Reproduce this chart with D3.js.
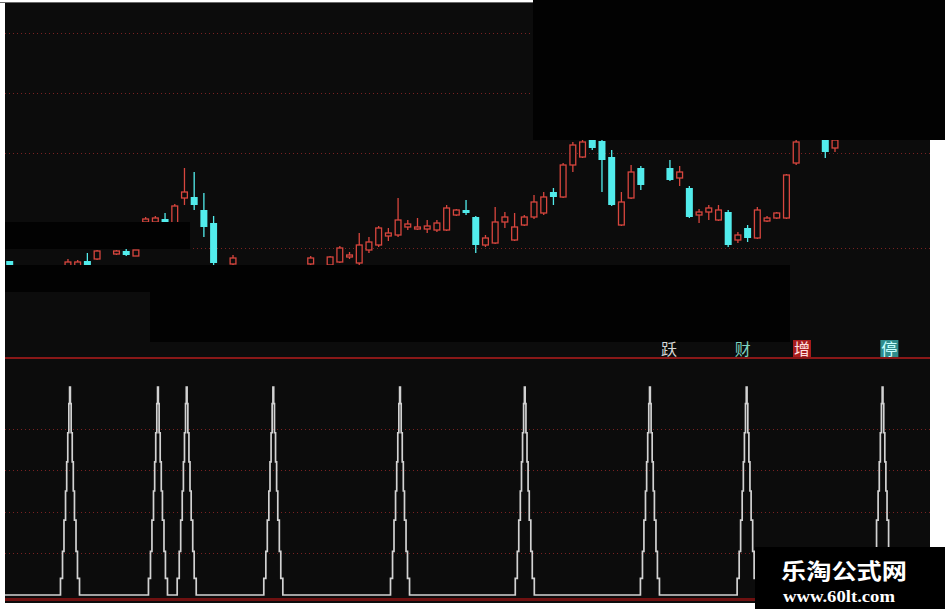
<!DOCTYPE html>
<html><head><meta charset="utf-8">
<script src="https://cdn.jsdelivr.net/npm/d3@7"></script>
<style>html,body{margin:0;padding:0;background:#fff;}svg{display:block;}</style>
</head><body>
<svg id="c" width="945" height="609"></svg>
<script>
// ---- candle data (bar index, OHLC) ----
const barIndex = [0,6,7,8,9,11,12,13,14,15,16,17,18,19,20,21,23,31,33,34,35,36,37,38,39,40,41,42,43,44,45,46,47,48,49,50,51,52,53,54,55,56,57,58,59,60,61,62,63,64,65,68,69,70,71,72,73,74,75,76,77,78,79,80,81,84,85];
const open  = [13.9,13.3,13.4,13.9,14.1,14.6,14.9,14.4,17.8,17.8,18.1,17.7,20.2,20.3,19.0,17.7,13.6,13.6,13.5,13.8,14.3,13.7,15.0,15.5,16.4,16.5,17.3,17.1,17.1,17.0,17.0,18.5,19.0,18.3,15.5,15.7,17.8,16.0,17.5,18.3,18.7,20.8,20.3,23.5,24.3,26.0,25.9,24.3,17.5,20.2,23.2,23.2,22.2,21.2,18.5,18.8,18.0,18.8,16.0,17.2,16.2,17.9,18.2,18.2,23.7,26.0,25.2];
const close = [13.4,13.8,13.8,13.5,14.9,14.9,14.5,15.0,18.1,18.2,17.8,19.4,20.8,19.5,17.3,13.7,14.2,14.2,14.3,15.2,14.5,15.5,15.8,17.2,16.7,18.0,17.6,17.3,17.4,17.7,19.2,19.0,18.7,15.5,16.2,17.8,18.3,17.3,18.3,19.8,20.3,20.3,23.5,25.5,25.8,25.2,24.0,19.5,19.8,22.8,21.5,22.0,22.8,18.3,18.8,19.2,19.0,15.5,16.5,16.2,19.0,18.2,18.7,22.5,25.8,24.8,26.0];
const high  = [13.9,14.1,14.0,14.7,15.0,15.0,15.1,15.0,18.3,18.4,18.7,19.6,23.2,22.8,20.7,18.4,14.5,14.4,14.4,15.4,14.8,16.7,16.3,17.4,17.2,20.2,18.0,18.2,18.0,18.0,19.5,19.1,20.0,18.4,16.5,19.3,18.8,18.7,18.5,20.5,20.8,21.2,23.7,25.8,26.0,26.2,26.2,25.0,20.8,23.5,23.4,24.0,23.4,21.4,19.1,19.5,19.5,19.0,16.8,17.5,19.3,18.4,18.8,22.6,26.0,26.2,26.2];
const low   = [13.3,13.3,13.4,13.2,14.0,14.5,14.4,14.4,17.7,17.8,17.7,17.6,19.5,19.0,16.3,13.5,13.4,13.4,13.5,13.7,14.1,13.4,14.7,15.3,15.9,16.3,17.0,17.0,16.7,16.8,16.9,18.4,18.5,14.7,15.3,15.6,17.2,15.9,17.4,18.1,18.5,19.5,20.2,22.8,24.2,25.0,20.8,19.4,17.4,20.1,21.0,21.9,21.4,18.2,17.7,18.0,17.9,15.3,15.7,15.8,16.1,17.8,18.1,18.1,23.5,24.2,24.8];
const priceGrid = [36.7, 30.7, 24.7, 15.2];

// ---- lower indicator (stepped peaks) ----
const peakCenters = [6.21, 15.27, 18.23, 27.15, 40.2, 53.05, 65.94, 75.9, 89.9];
const stepOffsets = [0.98, 0.77, 0.62, 0.46, 0.34, 0.23, 0.12, 0.04];
const stepLevels  = [8, 21, 36, 50, 64, 78, 92, 100];
const indGrid = [20, 40, 60, 80];

// ---- signal texts ----
const signalText = ["跃", "财", "增", "停"];
const signalPos  = [67.9, 75.5, 81.6, 90.6];

const svg = d3.select("#c");
const W = 945, H = 609;
const L = 5, R = 930, T = 2, B = 603;
const sepY = 358;

const x = d3.scaleLinear().domain([0, 85]).range([9.7, 835]);
const yP = d3.scaleLinear().domain([4.5, 39.8]).range([355, 2]);
const yI = d3.scaleLinear().domain([0, 100]).range([595, 387]);

svg.append("rect").attr("width", W).attr("height", H).attr("fill", "#fff");
svg.append("rect").attr("x", L).attr("y", T).attr("width", R - L).attr("height", B - T).attr("fill", "#0c0c0c");
svg.append("line").attr("x1", 0).attr("x2", W).attr("y1", T + 0.5).attr("y2", T + 0.5).attr("stroke", "#6a6a6a").attr("stroke-width", 1);

// upper grid
svg.append("g").selectAll("line").data(priceGrid).join("line")
  .attr("x1", L).attr("x2", R).attr("y1", d => Math.round(yP(d)) + 0.5).attr("y2", d => Math.round(yP(d)) + 0.5)
  .attr("stroke", "#7a2222").attr("stroke-width", 1).attr("stroke-dasharray", "1,3");

// candles
const up = "#d8463e", dn = "#52ecec";
const candles = barIndex.map((b, i) => ({b, o: open[i], c: close[i], h: high[i], l: low[i]}));
const cg = svg.append("g");
const bw = 7;
cg.selectAll("line").data(candles).join("line")
  .attr("x1", d => x(d.b)).attr("x2", d => x(d.b))
  .attr("y1", d => yP(d.h)).attr("y2", d => yP(d.l))
  .attr("stroke", d => d.c >= d.o ? up : dn).attr("stroke-width", 1.3);
cg.selectAll("rect").data(candles).join("rect")
  .attr("x", d => x(d.b) - bw / 2 + (d.c >= d.o ? 0.6 : 0))
  .attr("width", d => d.c >= d.o ? bw - 1.2 : bw)
  .attr("y", d => yP(Math.max(d.o, d.c)))
  .attr("height", d => Math.max(1.3, Math.abs(yP(d.o) - yP(d.c))))
  .attr("fill", d => d.c >= d.o ? "#0c0c0c" : dn)
  .attr("stroke", d => d.c >= d.o ? up : "none")
  .attr("stroke-width", 1.3);

// lower grid
svg.append("g").selectAll("line").data(indGrid).join("line")
  .attr("x1", L).attr("x2", R).attr("y1", d => Math.round(yI(d)) + 0.5).attr("y2", d => Math.round(yI(d)) + 0.5)
  .attr("stroke", "#7a2222").attr("stroke-width", 1).attr("stroke-dasharray", "1,3");

// separator
svg.append("line").attr("x1", L).attr("x2", R).attr("y1", sepY).attr("y2", sepY)
  .attr("stroke", "#8a1818").attr("stroke-width", 2);

// baseline red
svg.append("line").attr("x1", L).attr("x2", R).attr("y1", 599.5).attr("y2", 599.5)
  .attr("stroke", "#6e1010").attr("stroke-width", 3);

// stepped indicator
const pts = [[x.invert(L), 0]];
peakCenters.forEach(c => {
  stepOffsets.forEach((o, k) => pts.push([c - o, stepLevels[k]]));
  for (let k = stepLevels.length - 2; k >= 0; k--) pts.push([c + stepOffsets[k + 1], stepLevels[k]]);
  pts.push([c + stepOffsets[0], 0]);
});
pts.push([x.invert(R), 0]);
const line = d3.line().x(d => x(d[0])).y(d => yI(d[1])).curve(d3.curveStepAfter);
svg.append("path").attr("d", line(pts)).attr("fill", "none")
  .attr("stroke", "#d2d2d2").attr("stroke-width", 1.7);

// redaction boxes (part of the picture)
const boxes = [[533, 0, 412, 140], [5, 222, 185, 27], [5, 265, 145, 27], [150, 265, 640, 77]];
svg.append("g").selectAll("rect").data(boxes).join("rect")
  .attr("x", d => d[0]).attr("y", d => d[1]).attr("width", d => d[2]).attr("height", d => d[3]).attr("fill", "#020202");

// signal labels
const sigFill = ["#d6d6d6", "#7fd4c0", "#ffe0e0", "#c8ffff"];
const sigBg = [null, null, "#a81c1c", "#2f8c8c"];
const sg = svg.append("g");
signalText.forEach((t, i) => {
  const cx = x(signalPos[i]);
  if (sigBg[i]) sg.append("rect").attr("x", cx - 9).attr("y", 340).attr("width", 18).attr("height", 17).attr("fill", sigBg[i]);
  sg.append("text").attr("x", cx).attr("y", 355).attr("text-anchor", "middle")
    .attr("font-family", "Noto Sans CJK SC").attr("font-size", 16).attr("fill", sigFill[i]).text(t);
});

// watermark
svg.append("rect").attr("x", 755).attr("y", 547).attr("width", 190).attr("height", 62).attr("fill", "#000");
svg.append("text").attr("x", 781).attr("y", 579).attr("font-family", "Noto Sans CJK SC").attr("font-weight", "bold")
  .attr("font-size", 22).attr("fill", "#fff").attr("textLength", 126).attr("lengthAdjust", "spacingAndGlyphs").text("乐淘公式网");
svg.append("text").attr("x", 783).attr("y", 602).attr("font-family", "Liberation Serif").attr("font-weight", "bold")
  .attr("font-size", 16).attr("fill", "#fff").attr("textLength", 112).attr("lengthAdjust", "spacingAndGlyphs").text("www.60lt.com");
</script>
</body></html>
